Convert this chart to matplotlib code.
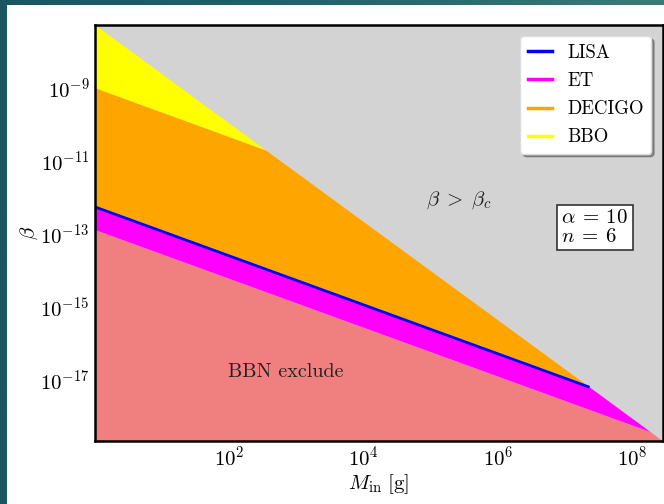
import numpy as np
import matplotlib
matplotlib.use("Agg")
import matplotlib.pyplot as plt
from matplotlib.patches import Rectangle
from matplotlib.colors import LinearSegmentedColormap

plt.rcParams['font.family'] = 'serif'
plt.rcParams['font.serif'] = ['cmr10', 'DejaVu Serif']
plt.rcParams['mathtext.fontset'] = 'cm'
plt.rcParams['axes.unicode_minus'] = False

# ---- data (M in g, beta dimensionless) ----
M_lim = [1.0, 2.8e8]
beta_lim = [2.0e-19, 5.4e-8]

# BBO region (yellow)
M_bbo = [1.0, 3.5e2, 1.0]
beta_bbo = [5.4e-8, 1.94e-11, 1.0e-9]

# DECIGO region (orange)
M_decigo = [1.0, 3.5e2, 2.3e7, 1.0]
beta_decigo = [1.0e-9, 1.94e-11, 6.0e-18, 5.4e-13]

# LISA line (blue)
M_lisa = [1.0, 2.3e7]
beta_lisa = [5.4e-13, 6.0e-18]

# ET region (magenta)
M_et = [1.0, 2.3e7, 1.87e8, 1.0]
beta_et = [5.4e-13, 6.0e-18, 3.5e-19, 1.26e-13]

# BBN excluded region (light coral)
M_bbn = [1.0, 1.87e8, 2.8e8, 2.8e8, 1.0]
beta_bbn = [1.26e-13, 3.5e-19, 2.0e-19, 2.0e-19, 2.0e-19]

labels = ['LISA', 'ET', 'DECIGO', 'BBO']
colors = ['blue', 'magenta', 'orange', 'yellow']

x_ticks = [1e2, 1e4, 1e6, 1e8]
y_ticks = [1e-17, 1e-15, 1e-13, 1e-11, 1e-9]

fig = plt.figure(figsize=(6.64, 5.04), dpi=100)
fig.patch.set_facecolor('#1f5a63')
# slide background gradient
grad = np.linspace(0, 1, 256).reshape(1, -1)
bg = fig.add_axes([0, 0, 1, 1], zorder=-10)
cmap = LinearSegmentedColormap.from_list('teal', ['#1b5561', '#23636b', '#3b7b77'])
bg.imshow(grad, aspect='auto', cmap=cmap, extent=[0, 1, 0, 1])
bg.set_axis_off()
fig.patches.append(Rectangle((7/664, 0), 1, 1 - 5/504, transform=fig.transFigure,
                             facecolor='white', edgecolor='none', zorder=-5))

ax = fig.add_axes([95/664, 63/504, 567.5/664, 416/504])
ax.set_xscale('log')
ax.set_yscale('log')
ax.set_facecolor('lightgray')

ax.fill(M_bbn, beta_bbn, color='lightcoral', lw=0, zorder=1)
ax.fill(M_et, beta_et, color='magenta', lw=0, zorder=2)
ax.fill(M_decigo, beta_decigo, color='orange', lw=0, zorder=2)
ax.fill(M_bbo, beta_bbo, color='yellow', lw=0, zorder=2)
ax.plot(M_lisa, beta_lisa, color='blue', lw=2.0, zorder=3, solid_capstyle='butt')

# legend handles
for lab, col in zip(labels, colors):
    ax.plot([], [], color=col, lw=2.5, label=lab)

ax.set_xlim(M_lim)
ax.set_ylim(beta_lim)
ax.set_xticks(x_ticks)
ax.set_yticks(y_ticks)
ax.minorticks_off()
ax.tick_params(length=0, labelsize=15)
ax.tick_params(axis='x', pad=3)
ax.tick_params(axis='y', pad=4)
for s in ax.spines.values():
    s.set_linewidth(1.8)
    s.set_zorder(5)

ax.set_xlabel(r'$M_{\rm in}\ [{\rm g}]$', fontsize=15, labelpad=2)
ax.set_ylabel(r'$\beta$', fontsize=15, labelpad=0)

ax.text(7.0e2, 1.6e-17, 'BBN exclude', fontsize=14.5, ha='center', va='center', color='#222222')
ax.text(2.6e5, 8.3e-13, r'$\beta\;>\;\beta_c$', fontsize=15, ha='center', va='center', color='#222222')
ax.text(0.822, 0.513, '$\\alpha\\:=\\:10$\n$n\\:=\\:6$', transform=ax.transAxes, fontsize=15,
        ha='left', va='center', linespacing=1.05,
        bbox=dict(boxstyle='square,pad=0.2', facecolor='white', edgecolor='#333333', lw=1.2))

leg = ax.legend(loc='upper right', fontsize=13.5, handlelength=1.3, shadow=True,
                framealpha=1, fancybox=True, edgecolor='#dddddd', labelspacing=0.55,
                borderaxespad=0.6)

fig.savefig('out.png', dpi=100)
